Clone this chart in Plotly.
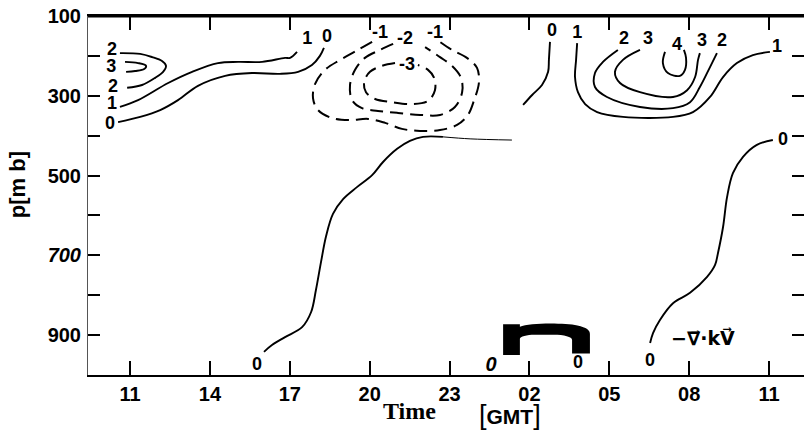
import plotly.graph_objects as go

# Time axis: hours counted from 00 GMT of the first day (26 h = 02 GMT next day)
tick_hours = [11, 14, 17, 20, 23, 26, 29, 32, 35]
tick_names = ["11", "14", "17", "20", "23", "02", "05", "08", "11"]
p_ticks = [100, 200, 300, 400, 500, 600, 700, 800, 900]
p_names = ["100", "", "300", "", "500", "", "<i>700</i>", "", "900"]

# Isolines of -div(kV): time [h], pressure [mb]
c0_west_t = [10.55, 11.38, 12.13, 12.80, 13.55, 14.57, 15.58, 16.63, 17.31, 17.83, 18.13, 18.28]
c0_west_p = [366, 353, 336, 311, 275, 250, 243, 245, 240, 223, 200, 180]
c1_west_t = [10.62, 11.30, 12.43, 13.33, 14.30, 15.06, 15.96, 16.82, 17.01, 17.27]
c1_west_p = [328, 311, 268, 240, 218, 215, 215, 205, 205, 190]
c2_west_t = [10.62, 11.38, 11.83, 12.20, 12.35, 12.24, 11.94, 11.45, 10.89]
c2_west_p = [193, 195, 203, 213, 225, 240, 255, 273, 280]
c3_west_t = [10.81, 11.30, 11.60, 11.53, 11.19, 10.85]
c3_west_p = [215, 218, 225, 233, 238, 240]

m1_t = [20.09, 19.56, 18.89, 18.32, 17.95, 17.87, 18.06, 18.59, 19.26, 19.94, 20.58,
        21.21, 21.89, 22.64, 23.28, 23.69, 23.92, 24.10, 24.03, 23.65, 23.09, 22.64]
m1_p = [165, 185, 210, 235, 270, 306, 336, 356, 361, 358, 368,
        383, 388, 386, 373, 348, 311, 268, 230, 205, 185, 165]
m2_t = [20.88, 20.39, 19.82, 19.45, 19.26, 19.34, 19.71, 20.31, 21.06, 21.89, 22.64,
        23.20, 23.47, 23.43, 23.09, 22.64, 22.08]
m2_p = [170, 185, 205, 235, 273, 311, 331, 338, 343, 348, 348,
        328, 291, 255, 225, 203, 178]
m3_t = [20.95, 20.46, 20.01, 19.79, 19.86, 20.20, 20.84, 21.59, 22.19, 22.45, 22.42, 22.19, 21.81]
m3_p = [218, 225, 240, 265, 291, 308, 316, 321, 313, 286, 255, 235, 223]

s0_west_t = [16.03, 16.33, 16.82, 17.46, 17.80, 17.98, 18.17, 18.36, 18.62, 19.00, 19.52,
             20.09, 20.50, 21.03, 21.51, 22.00, 22.75]
s0_west_p = [942, 925, 905, 880, 842, 787, 717, 652, 596, 559, 529,
             499, 466, 433, 413, 403, 403]
s0_tail_t = [22.75, 23.77, 25.34]
s0_tail_p = [403, 408, 411]

c0_mid_t = [26.77, 26.73, 26.70, 26.47, 26.10, 25.76]
c0_mid_p = [165, 210, 240, 273, 298, 323]

c1_east_t = [27.79, 27.75, 27.71, 27.82, 28.09, 28.54, 29.51, 31.39, 32.14, 32.78, 33.27, 33.79, 34.39, 35.03]
c1_east_p = [168, 210, 253, 291, 321, 341, 353, 353, 341, 303, 253, 218, 198, 190]
c2_east_t = [29.32, 28.76, 28.46, 28.46, 28.91, 30.15, 31.39, 32.03, 32.40, 32.78, 33.04]
c2_east_p = [185, 215, 243, 278, 303, 328, 331, 316, 278, 228, 193]
c3_east_t = [30.15, 29.51, 29.21, 29.40, 30.15, 31.39, 31.92, 32.22, 32.33, 32.40]
c3_east_p = [185, 210, 240, 268, 291, 303, 286, 253, 210, 193]
c4_east_t = [31.09, 31.01, 31.20, 31.65, 31.84, 31.88, 31.80]
c4_east_p = [190, 218, 243, 250, 235, 205, 185]

s0_east_t = [35.14, 34.54, 34.02, 33.64, 33.42, 33.27, 33.08, 32.97, 32.67, 32.03, 31.39, 30.90, 30.64, 30.53]
s0_east_p = [411, 423, 453, 494, 554, 629, 694, 724, 754, 794, 820, 862, 895, 920]

# Isoline labels
label_t = [10.32, 10.29, 10.36, 10.32, 10.25, 17.65, 18.40,
           20.39, 21.33, 22.45, 21.40,
           26.85, 27.79, 29.55, 30.45, 31.54, 32.48, 33.23, 35.30,
           35.52, 15.77, 27.82, 30.53]
label_p = [186, 230, 278, 322, 373, 160, 153,
           143, 160, 145, 223,
           140, 143, 160, 160, 173, 165, 165, 178,
           411, 975, 972, 967]
label_txt = ["2", "3", "2", "1", "0", "1", "0",
             "-1", "-2", "-1", "-3",
             "0", "1", "2", "3", "4", "3", "2", "1",
             "0", "0", "0", "0"]
italic_t = [24.56]
italic_p = [977]

solid = [
    (c0_west_t, c0_west_p), (c1_west_t, c1_west_p), (c2_west_t, c2_west_p), (c3_west_t, c3_west_p),
    (s0_west_t, s0_west_p), (c0_mid_t, c0_mid_p),
    (c1_east_t, c1_east_p), (c2_east_t, c2_east_p), (c3_east_t, c3_east_p), (c4_east_t, c4_east_p),
    (s0_east_t, s0_east_p),
]
dashed = [(m1_t, m1_p), (m2_t, m2_p), (m3_t, m3_p)]

fig = go.Figure()
for t, p in solid:
    fig.add_trace(go.Scatter(x=t, y=p, mode="lines", line=dict(color="black", width=1.9, shape="spline"),
                             hoverinfo="skip"))
fig.add_trace(go.Scatter(x=s0_tail_t, y=s0_tail_p, mode="lines",
                         line=dict(color="black", width=1.0, shape="spline"), hoverinfo="skip"))
for t, p in dashed:
    fig.add_trace(go.Scatter(x=t, y=p, mode="lines",
                             line=dict(color="black", width=2.0, shape="spline", dash="13px,7px"),
                             hoverinfo="skip"))

fig.add_trace(go.Scatter(x=label_t, y=label_p, mode="text", text=label_txt,
                         textfont=dict(family="Liberation Sans", size=18, color="black", weight="bold"),
                         hoverinfo="skip"))
fig.add_trace(go.Scatter(x=italic_t, y=italic_p, mode="text", text=["<i>0</i>"],
                         textfont=dict(family="Liberation Sans", size=20, color="black", weight="bold"),
                         hoverinfo="skip"))

# heavy blot near the bottom axis
fig.add_shape(type="path", xref="x", yref="y", fillcolor="black", line=dict(color="black", width=0),
              path=("M 25.01,950 L 25.01,873 L 25.64,873 L 25.64,879 "
                    "C 26.0,869 27.3,869 27.8,876 C 28.15,881 28.27,888 28.27,897 "
                    "L 28.27,946 L 27.60,946 L 27.60,912 C 27.60,904 27.3,899 26.9,899 "
                    "L 26.2,899 C 25.9,899 25.64,904 25.64,909 L 25.64,950 Z"))

# heavy top frame line
fig.add_shape(type="line", xref="paper", yref="paper", x0=0, x1=1, y0=1, y1=1,
              line=dict(color="black", width=3))

axis_font = dict(family="Liberation Sans", size=20, color="black", weight="bold")
fig.update_xaxes(range=[9.42, 36.31], tickvals=tick_hours, ticktext=tick_names,
                 ticks="inside", ticklen=14, tickwidth=1.5, tickcolor="black",
                 showline=True, linecolor="black", linewidth=1.5, mirror="ticks",
                 showgrid=False, zeroline=False, tickfont=axis_font,
                 ticklabelstandoff=0)
fig.update_yaxes(range=[1000, 100], tickvals=p_ticks, ticktext=p_names,
                 ticks="inside", ticklen=12, tickwidth=2, tickcolor="black",
                 showline=True, linecolor="#555555", linewidth=1, mirror="ticks",
                 showgrid=False, zeroline=False, tickfont=axis_font,
                 ticklabelstandoff=2)

fig.add_annotation(xref="paper", yref="paper", x=-0.099, y=0.529, text="<b>p[m b]</b>",
                   textangle=-90, showarrow=False, xanchor="center", yanchor="middle",
                   font=dict(family="Liberation Sans", size=22, color="black"))
fig.add_annotation(xref="paper", yref="paper", x=0.4497, y=-0.100, text="<b>Time</b>",
                   showarrow=False, xanchor="center", yanchor="middle",
                   font=dict(family="Liberation Serif", size=24, color="black"))
fig.add_annotation(xref="paper", yref="paper", x=0.589, y=-0.112,
                   text="<span style='font-size:27px'>[</span><b>GMT</b><span style='font-size:27px'>]</span>",
                   showarrow=False, xanchor="center", yanchor="middle",
                   font=dict(family="Liberation Sans", size=21, color="black"))
fig.add_annotation(x=32.52, y=907, text="<b>−∇\u20d7·kV\u20d7</b>", showarrow=False,
                   font=dict(family="DejaVu Sans", size=19, color="black"))

fig.update_layout(width=804, height=441, margin=dict(l=88, r=0, t=16, b=66),
                  paper_bgcolor="white", plot_bgcolor="white", showlegend=False)

fig.write_html("out.html")
